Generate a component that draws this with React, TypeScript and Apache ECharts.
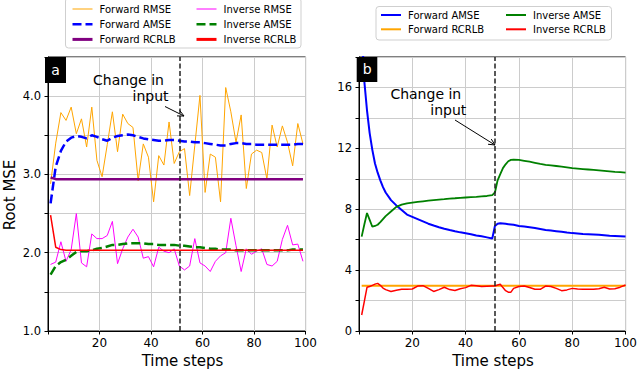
import React, { useEffect, useRef } from 'react';
import * as echarts from 'echarts';

const FONT = 'DejaVu Sans';

// ---------- Panel a data ----------
const leftSteps = [1, 3, 5, 7, 9, 11, 13, 15, 17, 19, 21, 23, 25, 27, 29, 31, 33, 35, 37, 39, 41, 43, 45, 47, 49, 51, 53, 55, 57, 59, 61, 63, 65, 67, 69, 71, 73, 75, 77, 79, 81, 83, 85, 87, 89, 91, 93, 95, 97, 99];
const forwardRmseA = [2.88, 3.40, 3.79, 3.69, 3.86, 3.52, 3.71, 3.35, 3.86, 3.18, 2.97, 3.38, 3.80, 3.29, 3.77, 3.65, 3.60, 2.92, 3.39, 3.22, 2.65, 3.24, 3.12, 3.67, 3.14, 3.29, 3.33, 2.73, 3.37, 4.01, 2.77, 3.26, 3.22, 2.65, 4.11, 3.80, 3.41, 3.76, 2.82, 3.26, 3.31, 3.28, 2.94, 3.63, 3.35, 3.62, 3.41, 3.11, 3.65, 3.39];
const forwardAmseA = [2.63, 3.10, 3.30, 3.42, 3.47, 3.49, 3.48, 3.46, 3.50, 3.48, 3.45, 3.43, 3.47, 3.49, 3.50, 3.51, 3.50, 3.48, 3.46, 3.45, 3.44, 3.43, 3.43, 3.44, 3.44, 3.43, 3.42, 3.42, 3.41, 3.41, 3.40, 3.39, 3.38, 3.37, 3.37, 3.39, 3.40, 3.40, 3.39, 3.39, 3.38, 3.38, 3.38, 3.38, 3.38, 3.38, 3.38, 3.38, 3.39, 3.39];
const inverseRmseA = [1.85, 1.88, 2.14, 1.89, 2.04, 2.50, 1.87, 1.82, 2.24, 2.18, 2.18, 2.22, 2.40, 1.86, 2.05, 2.20, 2.30, 2.20, 1.93, 1.95, 1.82, 2.07, 2.02, 2.00, 2.05, 1.83, 1.78, 1.83, 2.18, 1.87, 1.83, 1.76, 1.89, 1.96, 2.00, 2.44, 2.09, 1.76, 2.05, 1.98, 2.02, 2.05, 1.85, 1.83, 1.89, 2.17, 2.35, 2.10, 2.11, 1.89];
const inverseAmseA = [1.72, 1.83, 1.88, 1.91, 1.96, 2.01, 2.02, 2.02, 2.03, 2.05, 2.06, 2.08, 2.10, 2.10, 2.11, 2.12, 2.12, 2.12, 2.12, 2.11, 2.11, 2.10, 2.10, 2.10, 2.10, 2.09, 2.09, 2.08, 2.07, 2.07, 2.06, 2.05, 2.05, 2.04, 2.04, 2.04, 2.03, 2.03, 2.03, 2.03, 2.03, 2.03, 2.03, 2.03, 2.03, 2.03, 2.03, 2.04, 2.04, 2.04];
const forwardRcrlbStepsA = [1, 3, 99];
const forwardRcrlbA = [2.96, 2.94, 2.94];
const inverseRcrlbStepsA = [1, 3, 5, 7, 99];
const inverseRcrlbA = [2.48, 2.07, 2.04, 2.03, 2.03];

// ---------- Panel b data ----------
const rightSteps = [1, 2, 3, 4, 5, 6, 7, 8, 9, 10, 12, 14, 16, 18, 20, 22, 24, 26, 28, 30, 32, 34, 36, 38, 40, 42, 44, 46, 48, 50, 51, 52, 53, 54, 55, 56, 57, 58, 60, 62, 64, 66, 68, 70, 72, 74, 76, 78, 80, 82, 84, 86, 88, 90, 92, 94, 96, 98, 100];
const forwardAmseB = [20.0, 16.4, 14.5, 13.0, 11.9, 11.0, 10.4, 9.9, 9.45, 9.1, 8.6, 8.25, 7.95, 7.65, 7.5, 7.35, 7.2, 7.05, 6.93, 6.82, 6.72, 6.63, 6.55, 6.48, 6.42, 6.36, 6.28, 6.22, 6.15, 6.08, 6.9, 7.05, 7.08, 7.06, 7.04, 7.02, 7.0, 6.98, 6.9, 6.86, 6.81, 6.76, 6.7, 6.64, 6.6, 6.56, 6.52, 6.47, 6.43, 6.41, 6.38, 6.36, 6.34, 6.32, 6.29, 6.26, 6.24, 6.22, 6.2];
const inverseAmseB = [6.2, 7.0, 7.75, 7.3, 6.85, 6.9, 6.98, 7.15, 7.35, 7.55, 7.85, 8.15, 8.3, 8.38, 8.43, 8.48, 8.52, 8.56, 8.6, 8.63, 8.66, 8.7, 8.72, 8.75, 8.77, 8.79, 8.81, 8.84, 8.87, 8.92, 9.1, 9.9, 10.3, 10.7, 10.95, 11.15, 11.24, 11.26, 11.24, 11.18, 11.12, 11.05, 10.98, 10.92, 10.88, 10.84, 10.8, 10.75, 10.7, 10.67, 10.64, 10.61, 10.58, 10.55, 10.52, 10.49, 10.46, 10.44, 10.41];
const inverseRcrlbB = [1.05, 1.95, 2.87, 2.92, 3.0, 3.08, 3.13, 3.0, 2.82, 2.72, 2.6, 2.68, 2.74, 2.74, 2.76, 2.95, 2.98, 2.8, 2.6, 2.72, 2.87, 2.72, 2.66, 2.78, 2.85, 3.0, 2.98, 2.92, 2.94, 2.96, 2.96, 3.02, 3.07, 2.85, 2.65, 2.55, 2.55, 2.8, 2.92, 2.96, 2.86, 2.74, 2.74, 2.95, 2.92, 2.8, 2.65, 2.7, 2.8, 2.76, 2.74, 2.74, 2.74, 2.78, 2.87, 2.76, 2.78, 2.88, 3.02];
const forwardRcrlbStepsB = [1, 100];
const forwardRcrlbB = [2.98, 2.98];

const changeStep = 51;
const annotationLines = ['Change in', 'input'];

function pairs(steps: number[], vals: number[]) {
  return steps.map((t, i) => [t, vals[i]]);
}

function arrowEls(x1: number, y1: number, x2: number, y2: number) {
  const ang = Math.atan2(y2 - y1, x2 - x1);
  const L = 7;
  const w = 0.45;
  const p1 = [x2 - L * Math.cos(ang - w), y2 - L * Math.sin(ang - w)];
  const p2 = [x2 - L * Math.cos(ang + w), y2 - L * Math.sin(ang + w)];
  return [
    { type: 'line', z: 40, shape: { x1, y1, x2, y2 }, style: { stroke: '#000', lineWidth: 1 } },
    { type: 'polyline', z: 40, shape: { points: [p1, [x2, y2], p2] }, style: { stroke: '#000', lineWidth: 1, fill: null } },
  ];
}

function xAxisCfg() {
  return {
    type: 'value',
    min: 0,
    max: 100,
    interval: 20,
    axisLine: { show: true, lineStyle: { color: '#000', width: 1 } },
    axisTick: { show: true, inside: false, length: 3.5, lineStyle: { color: '#000', width: 1 } },
    axisLabel: {
      fontFamily: FONT,
      fontSize: 12,
      color: '#000',
      margin: 6,
      formatter: (v: number) => (v === 0 ? '' : String(v)),
    },
    splitLine: { show: true, lineStyle: { color: '#cccccc', width: 1 } },
  };
}

function legendItem(name: string, width: number) {
  return { name, lineStyle: { width }, itemStyle: { opacity: 0, borderWidth: 0 } };
}

function legendCfg(left: number, top: number, gap: number, data: any[]) {
  return {
    show: true,
    orient: 'vertical',
    left,
    top,
    padding: 0,
    itemWidth: 20,
    itemHeight: 10,
    itemGap: gap,
    selectedMode: false,
    itemStyle: { opacity: 0, borderWidth: 0 },
    textStyle: { fontFamily: FONT, fontSize: 10, color: '#000', padding: [0, 0, 0, 2] },
    data,
  };
}

function lineSeries(name: string, data: any[], color: string, width: number, dash?: number[], extra?: any) {
  return {
    name,
    type: 'line',
    data,
    symbol: 'none',
    showSymbol: false,
    clip: true,
    itemStyle: { color },
    lineStyle: { color, width, type: dash ? dash : 'solid' },
    emphasis: { disabled: true },
    ...(extra || {}),
  };
}

function changeMarkLine() {
  return {
    markLine: {
      silent: true,
      symbol: ['none', 'none'],
      label: { show: false },
      lineStyle: { color: '#222', type: [5, 2.5], width: 1.5 },
      emphasis: { disabled: true },
      data: [{ xAxis: changeStep }],
    },
  };
}

function leftOption() {
  return {
    animation: false,
    textStyle: { fontFamily: FONT },
    grid: { left: 48, right: 3, top: 57, bottom: 41, show: true, borderColor: '#000', borderWidth: 1, backgroundColor: 'transparent' },
    xAxis: xAxisCfg(),
    yAxis: {
      type: 'value',
      min: 1,
      max: 4.5,
      interval: 0.5,
      axisLine: { show: true, onZero: false, lineStyle: { color: '#000', width: 1 } },
      axisTick: { show: true, inside: false, length: 3.5, lineStyle: { color: '#000', width: 1 } },
      axisLabel: {
        fontFamily: FONT,
        fontSize: 11.5,
        color: '#000',
        margin: 7,
        formatter: (v: number) => (Number.isInteger(v) ? v.toFixed(1) : ''),
      },
      splitLine: { show: true, lineStyle: { color: '#cccccc', width: 1 } },
    },
    legend: [
      legendCfg(71, 4, 5.2, [
        legendItem('Forward RMSE', 1),
        legendItem('Forward AMSE', 2.5),
        legendItem('Forward RCRLB', 3),
      ]),
      legendCfg(195, 4, 5.2, [
        legendItem('Inverse RMSE', 1),
        legendItem('Inverse AMSE', 2.5),
        legendItem('Inverse RCRLB', 3),
      ]),
    ],
    series: [
      lineSeries('Forward RMSE', pairs(leftSteps, forwardRmseA), '#FFA500', 1),
      lineSeries('Forward AMSE', pairs(leftSteps, forwardAmseA), '#0000FF', 2.5, [9, 4]),
      lineSeries('Forward RCRLB', pairs(forwardRcrlbStepsA, forwardRcrlbA), '#800080', 2.5),
      lineSeries('Inverse RMSE', pairs(leftSteps, inverseRmseA), '#FF00FF', 1),
      lineSeries('Inverse AMSE', pairs(leftSteps, inverseAmseA), '#008000', 2.5, [9, 4]),
      lineSeries('Inverse RCRLB', pairs(inverseRcrlbStepsA, inverseRcrlbA), '#FF0000', 1.5, undefined, changeMarkLine()),
    ],
    graphic: [
      { type: 'rect', z: 0, shape: { x: 65.5, y: -2, width: 235.5, height: 50, r: 3 }, style: { fill: '#fff', stroke: '#cfcfcf', lineWidth: 1 } },
      { type: 'rect', z: 50, shape: { x: 45, y: 57, width: 21, height: 26 }, style: { fill: '#000' } },
      { type: 'text', z: 51, x: 55.5, y: 70, style: { text: 'a', fill: '#fff', fontFamily: FONT, fontSize: 14, align: 'center', verticalAlign: 'middle' } },
      { type: 'text', z: 40, x: 128.5, y: 80, style: { text: annotationLines[0], fill: '#000', fontFamily: FONT, fontSize: 14, align: 'center', verticalAlign: 'middle' } },
      { type: 'text', z: 40, x: 150.5, y: 95.5, style: { text: annotationLines[1], fill: '#000', fontFamily: FONT, fontSize: 14, align: 'center', verticalAlign: 'middle' } },
      ...arrowEls(165, 106.5, 184, 116),
      { type: 'text', z: 40, x: 182.5, y: 361, style: { text: 'Time steps', fill: '#000', fontFamily: FONT, fontSize: 15, align: 'center', verticalAlign: 'middle' } },
      { type: 'text', z: 40, x: 9.5, y: 195, rotation: Math.PI / 2, style: { text: 'Root MSE', fill: '#000', fontFamily: FONT, fontSize: 15, align: 'center', verticalAlign: 'middle' } },
    ],
  };
}

function rightOption() {
  return {
    animation: false,
    textStyle: { fontFamily: FONT },
    grid: { left: 39, right: 11, top: 57, bottom: 41, show: true, borderColor: '#000', borderWidth: 1, backgroundColor: 'transparent' },
    xAxis: xAxisCfg(),
    yAxis: {
      type: 'value',
      min: 0,
      max: 18,
      interval: 2,
      axisLine: { show: true, onZero: false, lineStyle: { color: '#000', width: 1 } },
      axisTick: { show: true, inside: false, length: 3.5, lineStyle: { color: '#000', width: 1 } },
      axisLabel: {
        fontFamily: FONT,
        fontSize: 11.5,
        color: '#000',
        margin: 7,
        formatter: (v: number) => (v % 4 === 0 ? String(v) : ''),
      },
      splitLine: { show: true, lineStyle: { color: '#cccccc', width: 1 } },
    },
    legend: [
      legendCfg(60, 10, 4.3, [
        legendItem('Forward AMSE', 2),
        legendItem('Forward RCRLB', 2),
      ]),
      legendCfg(185, 10, 4.3, [
        legendItem('Inverse AMSE', 2),
        legendItem('Inverse RCRLB', 2),
      ]),
    ],
    series: [
      lineSeries('Forward AMSE', pairs(rightSteps, forwardAmseB), '#0000FF', 2),
      lineSeries('Forward RCRLB', pairs(forwardRcrlbStepsB, forwardRcrlbB), '#FFA500', 2),
      lineSeries('Inverse AMSE', pairs(rightSteps, inverseAmseB), '#008000', 1.8),
      lineSeries('Inverse RCRLB', pairs(rightSteps, inverseRcrlbB), '#FF0000', 1.5, undefined, changeMarkLine()),
    ],
    graphic: [
      { type: 'rect', z: 0, shape: { x: 56, y: 6.5, width: 235.5, height: 33.5, r: 3 }, style: { fill: '#fff', stroke: '#cfcfcf', lineWidth: 1 } },
      { type: 'rect', z: 50, shape: { x: 36.7, y: 57, width: 20.6, height: 25 }, style: { fill: '#000' } },
      { type: 'text', z: 51, x: 47.3, y: 69, style: { text: 'b', fill: '#fff', fontFamily: FONT, fontSize: 14, align: 'center', verticalAlign: 'middle' } },
      { type: 'text', z: 40, x: 105.8, y: 94, style: { text: annotationLines[0], fill: '#000', fontFamily: FONT, fontSize: 14, align: 'center', verticalAlign: 'middle' } },
      { type: 'text', z: 40, x: 128.3, y: 109.5, style: { text: annotationLines[1], fill: '#000', fontFamily: FONT, fontSize: 14, align: 'center', verticalAlign: 'middle' } },
      ...arrowEls(135, 120, 175, 145),
      { type: 'text', z: 40, x: 173, y: 361, style: { text: 'Time steps', fill: '#000', fontFamily: FONT, fontSize: 15, align: 'center', verticalAlign: 'middle' } },
    ],
  };
}

export default function App() {
  const leftRef = useRef<HTMLDivElement>(null);
  const rightRef = useRef<HTMLDivElement>(null);

  useEffect(() => {
    const a = echarts.init(leftRef.current!, undefined, { renderer: 'svg' });
    const b = echarts.init(rightRef.current!, undefined, { renderer: 'svg' });
    a.setOption(leftOption() as any);
    b.setOption(rightOption() as any);
    return () => {
      a.dispose();
      b.dispose();
    };
  }, []);

  return (
    <div style={{ position: 'fixed', left: 0, top: 0, width: 640, height: 372, background: '#fff' }}>
      <div ref={leftRef} style={{ position: 'absolute', left: 0, top: 0, width: 320, height: 372 }} />
      <div ref={rightRef} style={{ position: 'absolute', left: 320, top: 0, width: 320, height: 372 }} />
    </div>
  );
}
